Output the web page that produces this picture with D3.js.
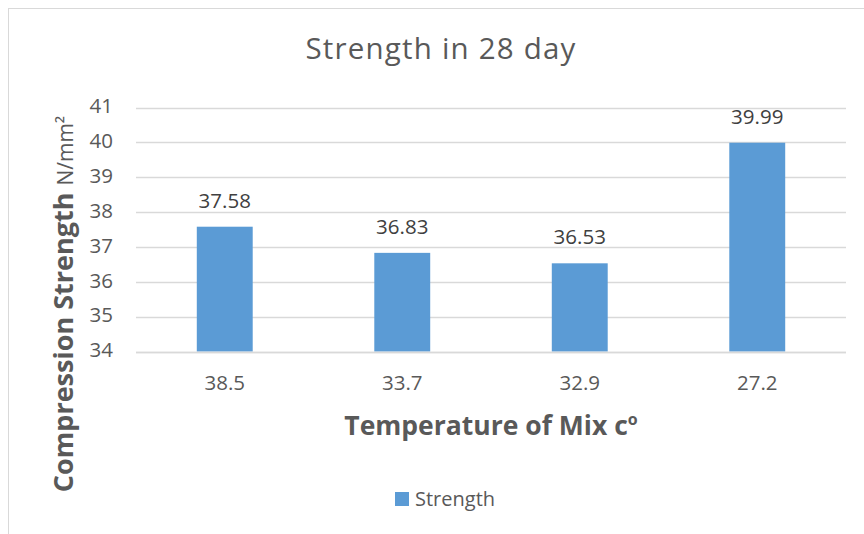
<!DOCTYPE html>
<html>
<head>
<meta charset="utf-8">
<script src="https://cdnjs.cloudflare.com/ajax/libs/d3/7.8.5/d3.min.js"></script>
<style>
  html, body { margin: 0; padding: 0; background: #fff; }
  svg { display: block; font-family: "Open Sans", "Noto Sans", sans-serif; }
</style>
</head>
<body>
<svg id="chart" width="864" height="534"></svg>
<script>
// Mix temperatures (°C) on the x axis and 28-day compressive strength (N/mm²)
const categories = ["38.5", "33.7", "32.9", "27.2"];
const strength = [37.58, 36.83, 36.53, 39.99];
const yTicks = [34, 35, 36, 37, 38, 39, 40, 41];
const seriesName = "Strength";

const svg = d3.select("#chart");
const W = 864, H = 534;
const plot = { left: 136, right: 846, top: 107.5, bottom: 351.5 };
const textColor = "#595959";
const barColor = "#5B9BD5";

// Outer chart frame
svg.append("rect")
  .attr("x", 8.5).attr("y", 8.5)
  .attr("width", W + 20).attr("height", H + 20)
  .attr("fill", "#fff").attr("stroke", "#d9d9d9").attr("stroke-width", 1);

const x = d3.scaleBand()
  .domain(categories)
  .range([plot.left, plot.right])
  .paddingInner(0.685)
  .paddingOuter(0.3425);

const y = d3.scaleLinear()
  .domain([34, 41])
  .range([plot.bottom, plot.top]);

// Horizontal gridlines
svg.append("g")
  .selectAll("line")
  .data(yTicks)
  .join("line")
  .attr("x1", plot.left).attr("x2", plot.right)
  .attr("y1", d => Math.round(y(d)) + 0.5).attr("y2", d => Math.round(y(d)) + 0.5)
  .attr("stroke", "#d9d9d9").attr("stroke-width", 1.3);

// Y axis labels
const yAxis = d3.axisLeft(y).tickValues(yTicks).tickSize(0).tickPadding(0).tickFormat(d3.format("d"));
const yg = svg.append("g").attr("transform", `translate(${plot.left - 23},0)`).call(yAxis);
yg.select(".domain").remove();
yg.selectAll("text").attr("fill", textColor).style("font-size", "20.5px")
  .style("font-family", "'Open Sans', sans-serif").attr("dy", "0.26em");

// Bars
svg.append("g")
  .selectAll("rect")
  .data(strength)
  .join("rect")
  .attr("x", (d, i) => x(categories[i]))
  .attr("width", x.bandwidth())
  .attr("y", d => y(d))
  .attr("height", d => y(34) - y(d))
  .attr("fill", barColor);

// Baseline (category axis)
svg.append("line")
  .attr("x1", plot.left).attr("x2", plot.right)
  .attr("y1", Math.round(y(34)) + 0.5).attr("y2", Math.round(y(34)) + 0.5)
  .attr("stroke", "#d9d9d9").attr("stroke-width", 1.5);

// Value labels above bars
svg.append("g")
  .selectAll("text")
  .data(strength)
  .join("text")
  .attr("x", (d, i) => x(categories[i]) + x.bandwidth() / 2)
  .attr("y", d => y(d) - 19)
  .attr("text-anchor", "middle")
  .attr("fill", "#404040")
  .style("font-size", "20.5px")
  .text(d => d.toFixed(2));

// Category labels
const xAxis = d3.axisBottom(x).tickSize(0).tickPadding(0);
const xg = svg.append("g").attr("transform", `translate(0,${plot.bottom})`).call(xAxis);
xg.select(".domain").remove();
xg.selectAll("text").attr("fill", textColor).style("font-size", "20.5px")
  .style("font-family", "'Open Sans', sans-serif").attr("y", 38.5).attr("dy", 0);

// Chart title
svg.append("text")
  .attr("x", 441).attr("y", 59)
  .attr("text-anchor", "middle")
  .attr("fill", textColor)
  .style("font-size", "29.5px")
  .style("letter-spacing", "1.2px")
  .text("Strength in 28 day");

// X axis title
const xt = svg.append("text")
  .attr("x", 491).attr("y", 435)
  .attr("text-anchor", "middle")
  .attr("fill", textColor)
  .style("font-size", "26.5px").style("font-weight", "bold");
xt.append("tspan").text("Temperature of Mix c");
xt.append("tspan").attr("dy", -10).style("font-size", "16px").text("o");

// Y axis title
const yt = svg.append("text")
  .attr("transform", "translate(73,304) rotate(-90)")
  .attr("text-anchor", "middle")
  .attr("fill", textColor);
yt.append("tspan").style("font-size", "27px").style("font-weight", "bold").text("Compression Strength ");
yt.append("tspan").style("font-size", "21px").text("N/mm²");

// Legend
const lg = svg.append("g").attr("transform", "translate(395,492)");
lg.append("rect").attr("width", 14).attr("height", 14).attr("fill", barColor);
lg.append("text").attr("x", 20).attr("y", 14).attr("fill", textColor)
  .style("font-size", "20px").text(seriesName);
</script>
</body>
</html>
